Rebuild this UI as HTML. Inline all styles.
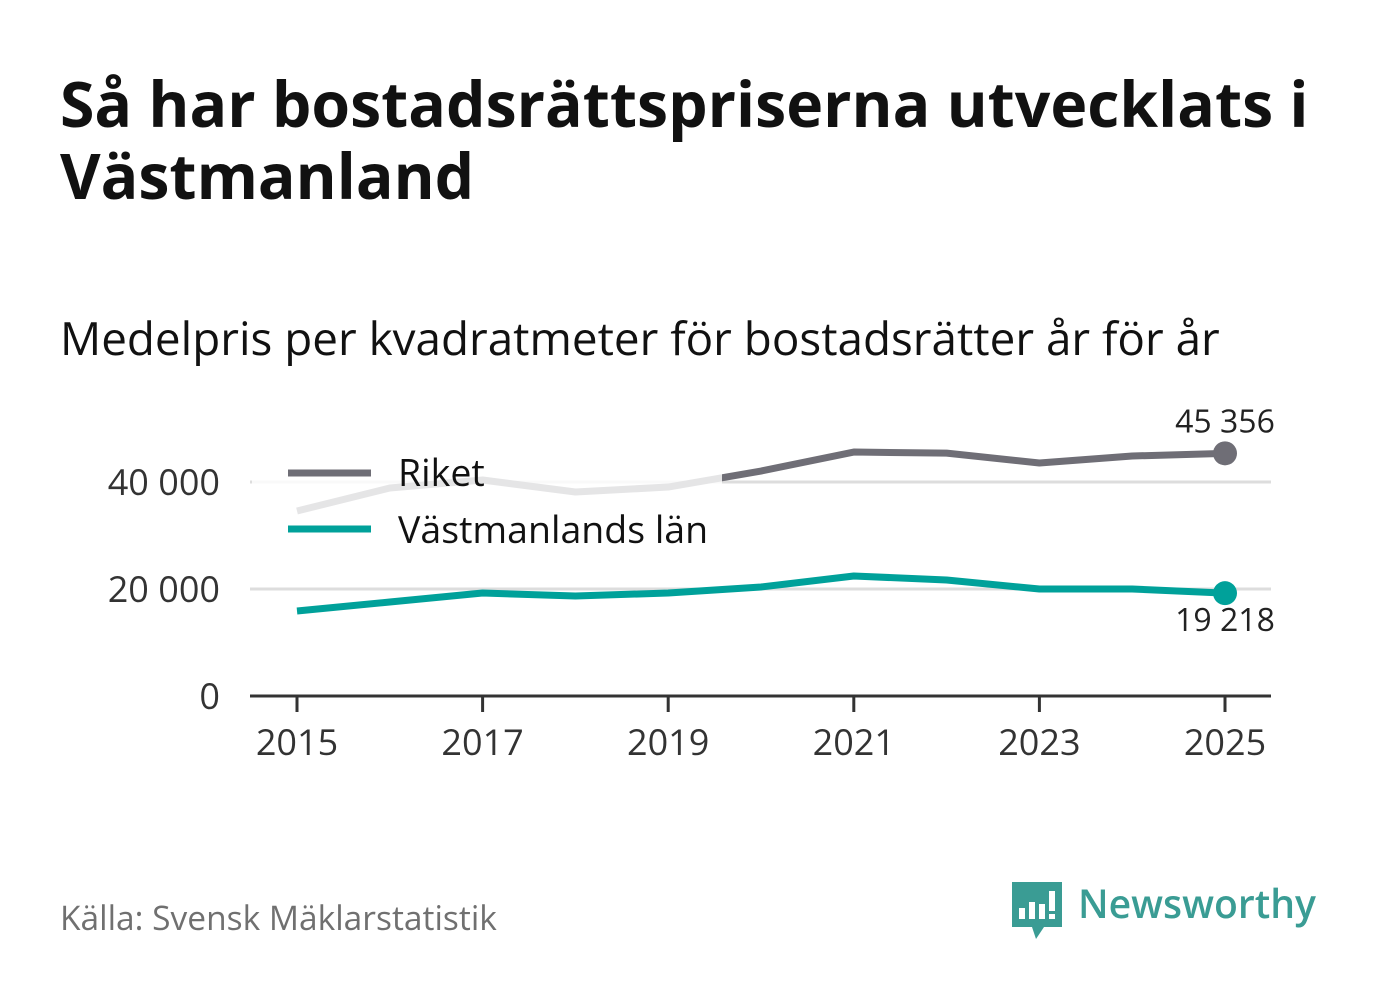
<!DOCTYPE html>
<html><head><meta charset="utf-8"><style>
body{margin:0;background:#fff;font-family:"Open Sans","Liberation Sans",sans-serif;}
svg{display:block}
</style></head><body>
<svg width="1382" height="999" viewBox="0 0 1382 999">
<text x="60" y="127" font-size="62.5" font-weight="bold" fill="#111">Så har bostadsrättspriserna utvecklats i</text>
<text x="60" y="199" font-size="62.5" font-weight="bold" fill="#111">Västmanland</text>
<text x="60" y="355" font-size="45.8" fill="#111">Medelpris per kvadratmeter för bostadsrätter år för år</text>
<g id="plot"></g>
<text x="60" y="930" font-size="33.5" fill="#707070">Källa: Svensk Mäklarstatistik</text>
<g>
<path d="M1012 882 h50 v45 h-18 l-8 12 l-4 -12 h-20 z" fill="#3a9c94"/>
<rect x="1019" y="908" width="6" height="11" fill="#fff"/><rect x="1029" y="902" width="6" height="17" fill="#fff"/><rect x="1039" y="904" width="6" height="15" fill="#fff"/><rect x="1049" y="891" width="6" height="20" fill="#fff"/><rect x="1049" y="914" width="6" height="5" fill="#fff"/>
<text x="1078" y="918" font-size="40" font-weight="600" fill="#3a9c94" textLength="238" lengthAdjust="spacingAndGlyphs">Newsworthy</text>
</g>
</svg>
<script>
const years=[2015,2016,2017,2018,2019,2020,2021,2022,2023,2024,2025];
const riket=[34580,38880,40370,38130,39060,42050,45600,45400,43550,44860,45356];
const vast=[15890,17570,19250,18690,19250,20370,22430,21680,20000,20000,19218];
const yTicks=[0,20000,40000];
const xTicks=[2015,2017,2019,2021,2023,2025];
const NS="http://www.w3.org/2000/svg";
const g=document.getElementById('plot');
const x=v=>297+(v-2015)*92.8;
const y=v=>696-v*107/20000;
const fmt=v=>v.toLocaleString('en-US').replace(/,/g,' ');
function mk(t,a){const e=document.createElementNS(NS,t);for(const k in a)e.setAttribute(k,a[k]);g.appendChild(e);return e;}
yTicks.forEach(v=>{
 if(v>0){const l=mk('line',{x1:250,x2:1271,y1:y(v),y2:y(v),stroke:'#ddd','stroke-width':3});
 
 }
 const t=mk('text',{x:220,y:y(v)+13,'font-size':36,fill:'#333','text-anchor':'end'});t.textContent=fmt(v);
 
 
});
const ax=mk('line',{x1:250,x2:1271,y1:696,y2:696,stroke:'#333','stroke-width':3});


xTicks.forEach(v=>{
 const tk=mk('line',{x1:x(v),x2:x(v),y1:696,y2:712,stroke:'#333','stroke-width':3});
 
 
 const t=mk('text',{x:x(v),y:755,'font-size':36,fill:'#333','text-anchor':'middle'});t.textContent=v;
 
 
});
function line(vals,col,name){
 const p=mk('polyline',{points:vals.map((v,i)=>x(years[i])+','+y(v)).join(' '),fill:'none',stroke:col,'stroke-width':7,'stroke-linejoin':'round'});
 
 
 const n=vals.length-1;
 const c=mk('circle',{cx:x(years[n]),cy:y(vals[n]),r:12,fill:col});
 
 
}
line(riket,'#6f6e76','line-riket');
line(vast,'#00a19a','line-vastmanland');
const lb1=mk('text',{x:1225,y:y(riket[10])-21,'font-size':32,fill:'#222','text-anchor':'middle'});lb1.textContent=fmt(riket[10]);


const lb2=mk('text',{x:1225,y:y(vast[10])+38,'font-size':32,fill:'#222','text-anchor':'middle'});lb2.textContent=fmt(vast[10]);


const bg=mk('rect',{x:252,y:444,width:470,height:112,fill:'#fff','fill-opacity':0.82});


const l1=mk('line',{x1:288,x2:371,y1:473,y2:473,stroke:'#6f6e76','stroke-width':7});


const t1=mk('text',{x:398,y:486,'font-size':37.5,fill:'#111'});t1.textContent='Riket';


const l2=mk('line',{x1:288,x2:371,y1:529,y2:529,stroke:'#00a19a','stroke-width':7});


const t2=mk('text',{x:398,y:543,'font-size':37.5,fill:'#111'});t2.textContent='Västmanlands län';


</script>
</body></html>
